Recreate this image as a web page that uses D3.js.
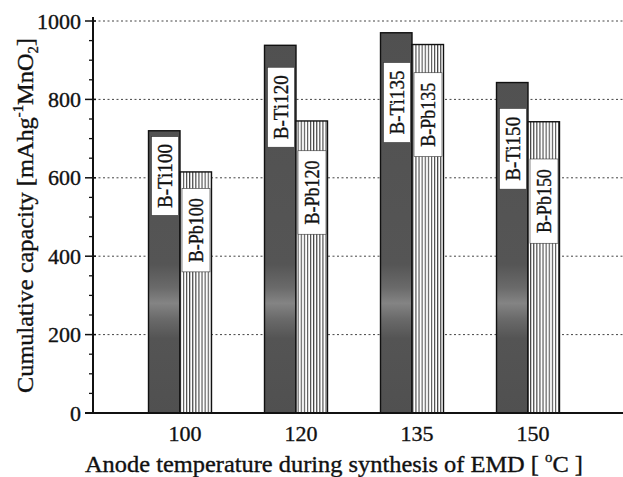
<!DOCTYPE html>
<html><head><meta charset="utf-8">
<script src="https://cdn.jsdelivr.net/npm/d3@7"></script>
<style>body{margin:0;background:#fff;}svg{display:block;} text{stroke:#111;stroke-width:0.35px;}</style>
</head><body>
<svg id="c" width="623" height="477"></svg>
<script>
const categories = ["100", "120", "135", "150"];
const tiValues = [720, 938, 970, 843];
const pbValues = [615, 745, 940, 743];
const tiLabels = ["B-Ti100", "B-Ti120", "B-Ti135", "B-Ti150"];
const pbLabels = ["B-Pb100", "B-Pb120", "B-Pb135", "B-Pb150"];
// label box extents in data units [top, bottom]
const tiLabelBox = [[705, 504], [882, 678], [894, 690], [777, 571]];
const pbLabelBox = [[573, 360], [669, 456], [868, 654], [648, 433]];
const yTicks = [0, 200, 400, 600, 800, 1000];

const svg = d3.select("#c");
const font = "'Liberation Serif','Times New Roman',serif";
const y = d3.scaleLinear().domain([0, 1000]).range([413, 21]);
const x = d3.scaleBand().domain(categories).range([122, 586]).paddingInner(0.457).paddingOuter(0.2285);
const sub = d3.scaleBand().domain(["Ti", "Pb"]).range([0, x.bandwidth()]);

const defs = svg.append("defs");
const hatch = defs.append("pattern").attr("id", "hatch").attr("patternUnits", "userSpaceOnUse")
  .attr("width", 3.1).attr("height", 10);
hatch.append("rect").attr("width", 3.1).attr("height", 10).attr("fill", "#fff");
hatch.append("line").attr("x1", 0.6).attr("x2", 0.6).attr("y1", 0).attr("y2", 10)
  .attr("stroke", "#1a1a1a").attr("stroke-width", 0.9);
const grad = defs.append("linearGradient").attr("id", "dark").attr("gradientUnits", "userSpaceOnUse")
  .attr("x1", 0).attr("x2", 0).attr("y1", y(1000)).attr("y2", y(0));
[[0, "#505050"], [0.62, "#555"], [0.68, "#6a6a6a"], [0.72, "#848484"], [0.76, "#6a6a6a"], [0.81, "#545454"], [1, "#505050"]]
  .forEach(([o, c]) => grad.append("stop").attr("offset", o).attr("stop-color", c));

// grid
svg.append("g").selectAll("line").data(yTicks.filter(d => d > 0)).join("line")
  .attr("x1", 94).attr("x2", 623).attr("y1", d => y(d)).attr("y2", d => y(d))
  .attr("stroke", "#444").attr("stroke-width", 1).attr("stroke-dasharray", "2,2.5");

// bars
const g = svg.append("g");
categories.forEach((c, i) => {
  const x0 = x(c);
  const bars = [
    {k: "Ti", v: tiValues[i], fill: "url(#dark)", lab: tiLabels[i], box: tiLabelBox[i]},
    {k: "Pb", v: pbValues[i], fill: "url(#hatch)", lab: pbLabels[i], box: pbLabelBox[i]}
  ];
  bars.forEach(b => {
    const bx = x0 + sub(b.k), bw = sub.bandwidth();
    g.append("rect").attr("x", bx).attr("y", y(b.v)).attr("width", bw).attr("height", y(0) - y(b.v))
      .attr("fill", b.fill).attr("stroke", "#111").attr("stroke-width", 1.4);
    const inset = b.k === "Ti" ? 3 : 2;
    const by0 = y(b.box[0]), by1 = y(b.box[1]);
    g.append("rect").attr("x", bx + inset).attr("y", by0).attr("width", bw - inset - 1.5).attr("height", by1 - by0)
      .attr("fill", "#fff").attr("stroke", "#333").attr("stroke-width", 0.6);
    const cx = bx + inset + (bw - inset - 1.5) / 2, cy = (by0 + by1) / 2;
    g.append("text").attr("transform", `translate(${cx + 7},${cy}) rotate(-90)`)
      .attr("text-anchor", "middle").attr("font-family", font).attr("font-size", 20.5)
      .attr("textLength", 64).attr("lengthAdjust", "spacingAndGlyphs")
      .attr("fill", "#111").text(b.lab);
  });
});

// y axis
const ax = svg.append("g");
ax.append("line").attr("x1", 93).attr("x2", 93).attr("y1", y(1000) - 4).attr("y2", y(0))
  .attr("stroke", "#111").attr("stroke-width", 2);
const minor = d3.range(0, 1001, 50).filter(d => d % 200 !== 0);
ax.selectAll(".mi").data(minor).join("line").attr("x1", 89).attr("x2", 93)
  .attr("y1", d => y(d)).attr("y2", d => y(d)).attr("stroke", "#111").attr("stroke-width", 1.3);
ax.selectAll(".ma").data(yTicks).join("line").attr("x1", 85).attr("x2", 96)
  .attr("y1", d => y(d)).attr("y2", d => y(d)).attr("stroke", "#111").attr("stroke-width", 1.5);
ax.selectAll("text").data(yTicks).join("text").attr("x", 81).attr("y", d => y(d) + 7.5)
  .attr("text-anchor", "end").attr("font-family", font).attr("font-size", 22).attr("fill", "#111")
  .text(d => d);

// x axis
svg.append("line").attr("x1", 85).attr("x2", 623).attr("y1", y(0)).attr("y2", y(0))
  .attr("stroke", "#111").attr("stroke-width", 2);
svg.append("g").selectAll("text").data(categories).join("text")
  .attr("x", d => x(d) + x.bandwidth() / 2 + 5).attr("y", 441)
  .attr("text-anchor", "middle").attr("font-family", font).attr("font-size", 22).attr("fill", "#111")
  .text(d => d);

// axis titles
const xt = svg.append("text").attr("x", 85).attr("y", 472).attr("text-anchor", "start")
  .attr("font-family", font).attr("font-size", 23).attr("fill", "#111")
  .attr("textLength", 498).attr("lengthAdjust", "spacingAndGlyphs");
xt.append("tspan").text("Anode temperature during synthesis of EMD [ ");
xt.append("tspan").attr("font-size", 14).attr("dy", -10).text("o");
xt.append("tspan").attr("dy", 10).text("C ]");

const yt = svg.append("text").attr("transform", "translate(33,393) rotate(-90)").attr("text-anchor", "start")
  .attr("font-family", font).attr("font-size", 23).attr("fill", "#111")
  .attr("textLength", 355).attr("lengthAdjust", "spacingAndGlyphs");
yt.append("tspan").text("Cumulative capacity [mAhg");
yt.append("tspan").attr("font-size", 14).attr("dy", -10).text("-1");
yt.append("tspan").attr("dy", 10).text("MnO");
yt.append("tspan").attr("font-size", 14).attr("dy", 5).text("2");
yt.append("tspan").attr("dy", -5).text("]");
</script>
</body></html>
